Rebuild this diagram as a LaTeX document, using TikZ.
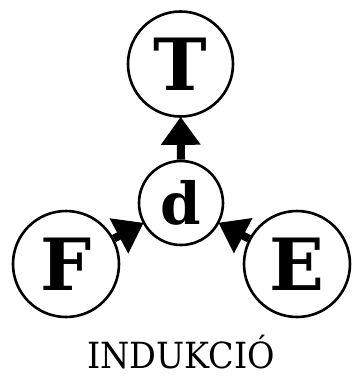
\documentclass[tikz,border=0pt]{standalone}
\usepackage{fontspec}
\usetikzlibrary{arrows.meta}
\newfontfamily\letterfont{DejaVu Serif}
\newfontfamily\labelfont{DejaVu Serif}[FakeStretch=0.93]
\tikzset{
  ring/.style={circle,draw=black,line width=2.6pt,inner sep=0pt,minimum size=#1,font=\letterfont\bfseries\fontsize{72}{72}\selectfont},
  push/.style={line width=8pt,-{Triangle[length=28pt,width=38pt]},shorten >=-1pt}
}
\begin{document}
\begin{tikzpicture}[x=1pt,y=-1pt]
\useasboundingbox (0,0) rectangle (353,376);
\node[ring=105pt] (T) at (180.5,64) {T};
\node[ring=84pt,font=\letterfont\bfseries\fontsize{58}{58}\selectfont] (d) at (181,203) {d};
\node[ring=106pt] (F) at (66,264) {F};
\node[ring=106pt] (E) at (297,264) {E};
\draw[push] (d) -- (T);
\draw[push] (F) -- (d);
\draw[push] (E) -- (d);
\node[font=\labelfont\fontsize{36}{36}\selectfont,anchor=base,inner sep=0pt] (lab) at (181,368) {INDUKCIÓ};
\end{tikzpicture}
\end{document}
